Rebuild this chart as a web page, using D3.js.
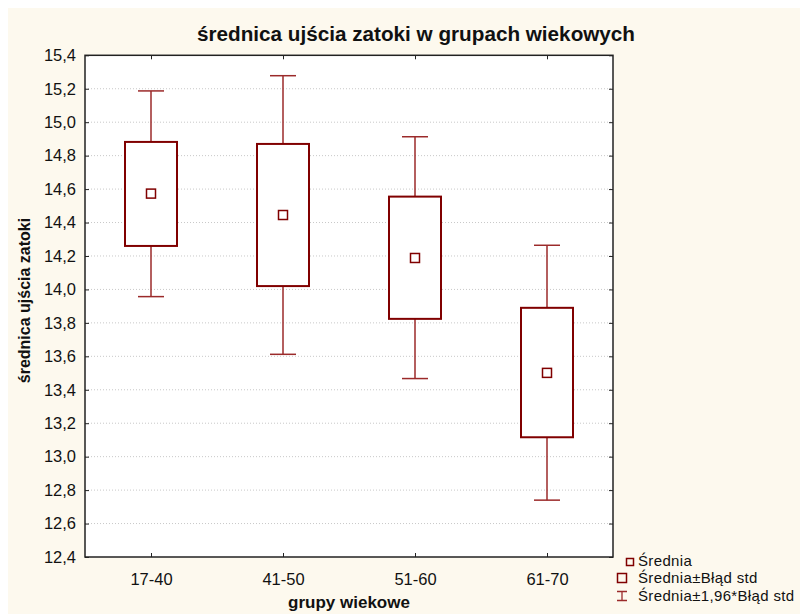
<!DOCTYPE html>
<html>
<head>
<meta charset="utf-8">
<script src="https://cdn.jsdelivr.net/npm/d3@7"></script>
<style>
  html, body { margin: 0; padding: 0; background: #ffffff; }
  svg { display: block; font-family: Arial, "Liberation Sans", sans-serif; }
</style>
</head>
<body>
<svg id="chart" width="810" height="614"></svg>
<script>
// Age groups and the diameter statistics for each group
const groups = ["17-40", "41-50", "51-60", "61-70"];
const means = [14.573, 14.445, 14.188, 13.501];
const boxLow = [14.26, 14.02, 13.824, 13.116];   // mean - SE
const boxHigh = [14.882, 14.87, 14.555, 13.89];  // mean + SE
const whiskLow = [13.957, 13.612, 13.467, 12.74];   // mean - 1.96*SE
const whiskHigh = [15.187, 15.278, 14.913, 14.264]; // mean + 1.96*SE
const yTicks = [12.4, 12.6, 12.8, 13.0, 13.2, 13.4, 13.6, 13.8, 14.0, 14.2, 14.4, 14.6, 14.8, 15.0, 15.2, 15.4];

const rows = groups.map((g, i) => ({
  g, mean: means[i], lo: boxLow[i], hi: boxHigh[i], wlo: whiskLow[i], whi: whiskHigh[i]
}));

const svg = d3.select("#chart");
const pL = 85, pR = 613, pT = 55.3, pB = 557;
const red = "#800000";

svg.append("rect").attr("x", 8).attr("y", 8).attr("width", 792).attr("height", 606)
  .attr("fill", "#fdf9ee");
svg.append("rect").attr("x", pL).attr("y", pT).attr("width", pR - pL).attr("height", pB - pT)
  .attr("fill", "#ffffff");

const x = d3.scalePoint().domain(groups).range([pL, pR]).padding(0.5);
const y = d3.scaleLinear().domain([12.4, 15.4]).range([pB, pT]);
const fmt = v => d3.format(".1f")(v).replace(".", ",");

// dotted grid
svg.append("g").selectAll("line").data(yTicks.slice(1, -1)).join("line")
  .attr("x1", pL).attr("x2", pR)
  .attr("y1", d => y(d)).attr("y2", d => y(d))
  .attr("stroke", "#c8c8c8").attr("stroke-width", 1).attr("stroke-dasharray", "1,2");

// axes with inward ticks
const axL = svg.append("g").attr("transform", `translate(${pL},0)`)
  .call(d3.axisLeft(y).tickValues(yTicks).tickFormat(fmt).tickSizeInner(-4).tickSizeOuter(0).tickPadding(9));
const axR = svg.append("g").attr("transform", `translate(${pR},0)`)
  .call(d3.axisRight(y).tickValues(yTicks).tickFormat("").tickSizeInner(-4).tickSizeOuter(0));
const axB = svg.append("g").attr("transform", `translate(0,${pB})`)
  .call(d3.axisBottom(x).tickSizeInner(-4).tickSizeOuter(0).tickPadding(16));
const axT = svg.append("g").attr("transform", `translate(0,${pT})`)
  .call(d3.axisTop(x).tickFormat("").tickSizeInner(-4).tickSizeOuter(0));
[axL, axR, axB, axT].forEach(a => {
  a.select(".domain").remove();
  a.selectAll(".tick line").attr("stroke", "#222");
  a.selectAll("text").attr("font-size", 16.5).attr("fill", "#111")
    .attr("font-family", "Arial, 'Liberation Sans', sans-serif");
});

svg.append("rect").attr("x", pL).attr("y", pT).attr("width", pR - pL).attr("height", pB - pT)
  .attr("fill", "none").attr("stroke", "#222").attr("stroke-width", 1.5);

// boxes and whiskers
const boxW = 52, capW = 26;
const g = svg.append("g");
const item = g.selectAll("g").data(rows).join("g");
item.append("line")
  .attr("x1", d => x(d.g)).attr("x2", d => x(d.g))
  .attr("y1", d => y(d.whi)).attr("y2", d => y(d.hi))
  .attr("stroke", "#9b2a2a").attr("stroke-width", 1.5);
item.append("line")
  .attr("x1", d => x(d.g)).attr("x2", d => x(d.g))
  .attr("y1", d => y(d.lo)).attr("y2", d => y(d.wlo))
  .attr("stroke", "#9b2a2a").attr("stroke-width", 1.5);
item.append("line")
  .attr("x1", d => x(d.g) - capW / 2).attr("x2", d => x(d.g) + capW / 2)
  .attr("y1", d => y(d.whi)).attr("y2", d => y(d.whi))
  .attr("stroke", "#9b2a2a").attr("stroke-width", 1.5);
item.append("line")
  .attr("x1", d => x(d.g) - capW / 2).attr("x2", d => x(d.g) + capW / 2)
  .attr("y1", d => y(d.wlo)).attr("y2", d => y(d.wlo))
  .attr("stroke", "#9b2a2a").attr("stroke-width", 1.5);
item.append("rect")
  .attr("x", d => x(d.g) - boxW / 2).attr("width", boxW)
  .attr("y", d => y(d.hi)).attr("height", d => y(d.lo) - y(d.hi))
  .attr("fill", "#ffffff").attr("stroke", red).attr("stroke-width", 2);
item.append("rect")
  .attr("x", d => x(d.g) - 4.5).attr("width", 9)
  .attr("y", d => y(d.mean) - 4.5).attr("height", 9)
  .attr("fill", "#ffffff").attr("stroke", red).attr("stroke-width", 1.5);

// titles
svg.append("text").attr("x", 416).attr("y", 40.5).attr("text-anchor", "middle")
  .attr("font-size", 20.7).attr("font-weight", "bold").attr("fill", "#111")
  .text("średnica ujścia zatoki w grupach wiekowych");
svg.append("text").attr("x", (pL + pR) / 2).attr("y", 608).attr("text-anchor", "middle")
  .attr("font-size", 17).attr("font-weight", "bold").attr("fill", "#111")
  .text("grupy wiekowe");
svg.append("text").attr("transform", "translate(30,300.5) rotate(-90)")
  .attr("text-anchor", "middle")
  .attr("font-size", 16).attr("font-weight", "bold").attr("fill", "#111")
  .text("średnica ujścia zatoki");

// legend
const lg = svg.append("g");
lg.append("rect").attr("x", 626.5).attr("y", 558.5).attr("width", 7).attr("height", 7)
  .attr("fill", "none").attr("stroke", red).attr("stroke-width", 1.5);
lg.append("rect").attr("x", 617.5).attr("y", 573.5).attr("width", 9).attr("height", 9)
  .attr("fill", "none").attr("stroke", red).attr("stroke-width", 1.5);
lg.append("path").attr("d", "M617,591.5H627M622,591.5V600.5M617,600.5H627")
  .attr("fill", "none").attr("stroke", "#9b2a2a").attr("stroke-width", 1.3);
const legendLabels = ["Średnia", "Średnia±Błąd std", "Średnia±1,96*Błąd std"];
lg.selectAll("text").data(legendLabels).join("text")
  .attr("x", 638).attr("y", (d, i) => 566 + i * 17.3)
  .attr("font-size", 15).attr("letter-spacing", 0.35).attr("fill", "#111").text(d => d);
</script>
</body>
</html>
